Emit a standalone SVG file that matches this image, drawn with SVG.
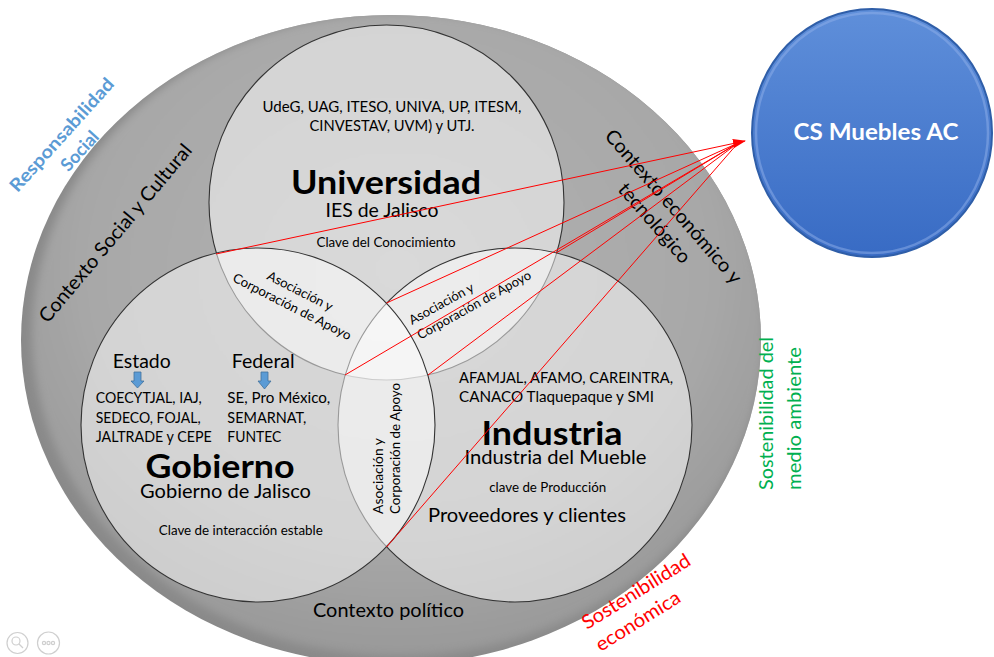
<svg xmlns="http://www.w3.org/2000/svg" width="994" height="657" viewBox="0 0 994 657">
<defs>
<style>
.t{font-family:Lato,'Liberation Sans',sans-serif;fill:#000}
.b{font-weight:bold}
.s13{font-size:13px}
.s15{font-size:15px}
.s19{font-size:19.5px}
.big{font-size:32px;font-weight:bold}
.ring{fill:#fff;fill-opacity:.5;stroke:#333;stroke-width:1.1}
.arr{fill:#5b9bd5;stroke:#41719c;stroke-width:.8}
.con{fill:none;stroke:#ff0000;stroke-width:1}
.ico{fill:none;stroke:#cfcfcf;stroke-width:1.2}
</style>
<radialGradient id="gE" cx="0.5" cy="0.4" r="0.6">
<stop offset="0" stop-color="#b2b2b2"/>
<stop offset="0.7" stop-color="#a8a8a8"/>
<stop offset="1" stop-color="#999"/>
</radialGradient>
<linearGradient id="gB" x1="0" y1="0" x2="0" y2="1">
<stop offset="0" stop-color="#5f8fda"/>
<stop offset="1" stop-color="#386bc4"/>
</linearGradient>
<filter id="blur" x="-5%" y="-5%" width="110%" height="110%"><feGaussianBlur stdDeviation="4"/></filter>
<clipPath id="cE"><ellipse cx="391" cy="340" rx="370" ry="325"/></clipPath>
<marker id="ah" markerWidth="13" markerHeight="9" refX="12" refY="4.5" orient="auto" markerUnits="userSpaceOnUse"><path d="M0,0 L13,4.5 L0,9 Z" fill="#ff0000"/></marker>
</defs>
<rect width="994" height="657" fill="#fff"/>

<g id="contexto">
<ellipse cx="391" cy="340" rx="370" ry="325" fill="#8a8a8a"/>
<g clip-path="url(#cE)"><ellipse cx="398" cy="334" rx="366" ry="322" fill="url(#gE)" filter="url(#blur)"/></g>
<text class="t s19" transform="translate(115,233) rotate(-50)" x="0" y="7" text-anchor="middle" textLength="226" lengthAdjust="spacingAndGlyphs">Contexto Social y Cultural</text>
<g transform="translate(673,207) rotate(49)">
<text class="t s19" x="0" y="6" text-anchor="middle" textLength="197" lengthAdjust="spacingAndGlyphs">Contexto económico y</text>
<text class="t s19" x="0" y="31" text-anchor="middle">tecnológico</text>
</g>
<text class="t s19" x="388.5" y="617" text-anchor="middle" textLength="151" lengthAdjust="spacingAndGlyphs">Contexto político</text>
</g>

<g id="universidad">
<circle class="ring" cx="386.5" cy="202.5" r="177.5"/>
<text class="t s15" x="392" y="111.5" text-anchor="middle" textLength="259" lengthAdjust="spacingAndGlyphs">UdeG, UAG, ITESO, UNIVA, UP, ITESM,</text>
<text class="t s15" x="392" y="131" text-anchor="middle" textLength="165" lengthAdjust="spacingAndGlyphs">CINVESTAV, UVM) y UTJ.</text>
<text class="t big" x="386" y="194" text-anchor="middle" textLength="190" lengthAdjust="spacingAndGlyphs">Universidad</text>
<text class="t s19" x="382" y="217" text-anchor="middle" textLength="113" lengthAdjust="spacingAndGlyphs">IES de Jalisco</text>
<text class="t s13" x="386" y="247" text-anchor="middle" textLength="139" lengthAdjust="spacingAndGlyphs">Clave del Conocimiento</text>
</g>

<g id="industria">
<circle class="ring" cx="515" cy="425" r="177"/>
<text class="t s15" x="459" y="383.3" textLength="214" lengthAdjust="spacingAndGlyphs">AFAMJAL, AFAMO, CAREINTRA,</text>
<text class="t s15" x="459" y="401.7" textLength="195" lengthAdjust="spacingAndGlyphs">CANACO Tlaquepaque y SMI</text>
<text class="t big" x="552" y="445" text-anchor="middle" textLength="141" lengthAdjust="spacingAndGlyphs">Industria</text>
<text class="t s19" x="555.5" y="463.5" text-anchor="middle" textLength="182" lengthAdjust="spacingAndGlyphs">Industria del Mueble</text>
<text class="t s13" x="547.7" y="491.7" text-anchor="middle" textLength="117" lengthAdjust="spacingAndGlyphs">clave de Producción</text>
<text class="t s19" x="527" y="521.7" text-anchor="middle" textLength="198" lengthAdjust="spacingAndGlyphs">Proveedores y clientes</text>
</g>

<g id="gobierno">
<circle class="ring" cx="258" cy="425" r="177"/>
<text class="t s19" x="112.7" y="368.3" textLength="58" lengthAdjust="spacingAndGlyphs">Estado</text>
<text class="t s19" x="231.7" y="368.3" textLength="63" lengthAdjust="spacingAndGlyphs">Federal</text>
<path class="arr" d="M134,372 H141 V381 H144 L137.5,388 L131,381 H134 Z"/>
<path class="arr" d="M261,372 H268 V381 H271 L264.5,389 L258,381 H261 Z"/>
<text class="t s15" x="95.7" y="403.3" textLength="106" lengthAdjust="spacingAndGlyphs">COECYTJAL, IAJ,</text>
<text class="t s15" x="95.7" y="422.7" textLength="105" lengthAdjust="spacingAndGlyphs">SEDECO, FOJAL,</text>
<text class="t s15" x="95.7" y="441.7" textLength="116" lengthAdjust="spacingAndGlyphs">JALTRADE y CEPE</text>
<text class="t s15" x="227.3" y="403.3" textLength="103" lengthAdjust="spacingAndGlyphs">SE, Pro México,</text>
<text class="t s15" x="227.3" y="422.7" textLength="79" lengthAdjust="spacingAndGlyphs">SEMARNAT,</text>
<text class="t s15" x="227.3" y="441.7" textLength="54" lengthAdjust="spacingAndGlyphs">FUNTEC</text>
<text class="t big" x="220" y="477.5" text-anchor="middle" textLength="149" lengthAdjust="spacingAndGlyphs">Gobierno</text>
<text class="t s19" x="225.5" y="498" text-anchor="middle" textLength="171" lengthAdjust="spacingAndGlyphs">Gobierno de Jalisco</text>
<text class="t s13" x="240.8" y="535" text-anchor="middle" textLength="164" lengthAdjust="spacingAndGlyphs">Clave de interacción estable</text>
</g>

<g id="apoyo-universidad-gobierno" transform="translate(296,299) rotate(27)">
<text class="t s13" x="0" y="-4.5" text-anchor="middle" textLength="72" lengthAdjust="spacingAndGlyphs">Asociación y</text>
<text class="t s13" x="0" y="13" text-anchor="middle" textLength="131" lengthAdjust="spacingAndGlyphs">Corporación de Apoyo</text>
</g>
<g id="apoyo-universidad-industria" transform="translate(412,325) rotate(-29)">
<text class="t s13" x="0" y="0" textLength="72" lengthAdjust="spacingAndGlyphs">Asociación y</text>
<text class="t s13" x="0" y="17" textLength="128" lengthAdjust="spacingAndGlyphs">Corporación de Apoyo</text>
</g>
<g id="apoyo-gobierno-industria" transform="translate(382.5,514) rotate(-90)">
<text class="t s13" x="0" y="0" textLength="76" lengthAdjust="spacingAndGlyphs">Asociación y</text>
<text class="t s13" x="0" y="17" textLength="131" lengthAdjust="spacingAndGlyphs">Corporación de Apoyo</text>
</g>

<g id="connectors">
<path class="con" d="M216,254 L745,141" marker-end="url(#ah)"/>
<path class="con" d="M386.5,303 L738,143"/>
<path class="con" d="M345,375 L738,143"/>
<path class="con" d="M428,375 L738,143"/>
<path class="con" d="M556,253 L738,143"/>
<path class="con" d="M386.5,547 L738,143"/>
</g>

<g id="cs-muebles">
<ellipse cx="872" cy="133" rx="120" ry="124" fill="url(#gB)" stroke="#2f5ea8" stroke-width="2"/>
<ellipse cx="872" cy="133" rx="116" ry="120" fill="none" stroke="#8fb0ea" stroke-opacity=".5" stroke-width="2.5"/>
<text class="t b" x="876" y="140" text-anchor="middle" font-size="22" style="fill:#fff" textLength="165" lengthAdjust="spacingAndGlyphs">CS Muebles AC</text>
</g>

<g id="responsabilidad-social" transform="translate(62,135) rotate(-48)">
<text class="t b" x="0" y="6" text-anchor="middle" font-size="18" style="fill:#5b9bd5" textLength="146" lengthAdjust="spacingAndGlyphs">Responsabilidad</text>
<text class="t b" x="0" y="30" text-anchor="middle" font-size="18" style="fill:#5b9bd5">Social</text>
</g>
<g id="sostenibilidad-ambiente" transform="translate(773,490) rotate(-90)">
<text class="t s19" x="0" y="0" style="fill:#00b050" textLength="153" lengthAdjust="spacingAndGlyphs">Sostenibilidad del</text>
<text class="t s19" x="0" y="28" style="fill:#00b050" textLength="143" lengthAdjust="spacingAndGlyphs">medio ambiente</text>
</g>
<g id="sostenibilidad-economica" transform="translate(587,630) rotate(-32)">
<text class="t s19" x="0" y="0" style="fill:#ff0000" textLength="124" lengthAdjust="spacingAndGlyphs">Sostenibilidad</text>
<text class="t s19" x="0" y="26" style="fill:#ff0000" textLength="96" lengthAdjust="spacingAndGlyphs">económica</text>
</g>

<g id="viewer-icons">
<circle class="ico" cx="17.5" cy="643" r="10.5"/>
<circle class="ico" cx="16" cy="641" r="4"/>
<path class="ico" d="M19,644 L23,648" stroke-width="2"/>
<circle class="ico" cx="48.5" cy="643" r="11"/>
<circle class="ico" cx="44" cy="643" r="1.6"/>
<circle class="ico" cx="48.5" cy="643" r="1.6"/>
<circle class="ico" cx="53" cy="643" r="1.6"/>
</g>
</svg>
